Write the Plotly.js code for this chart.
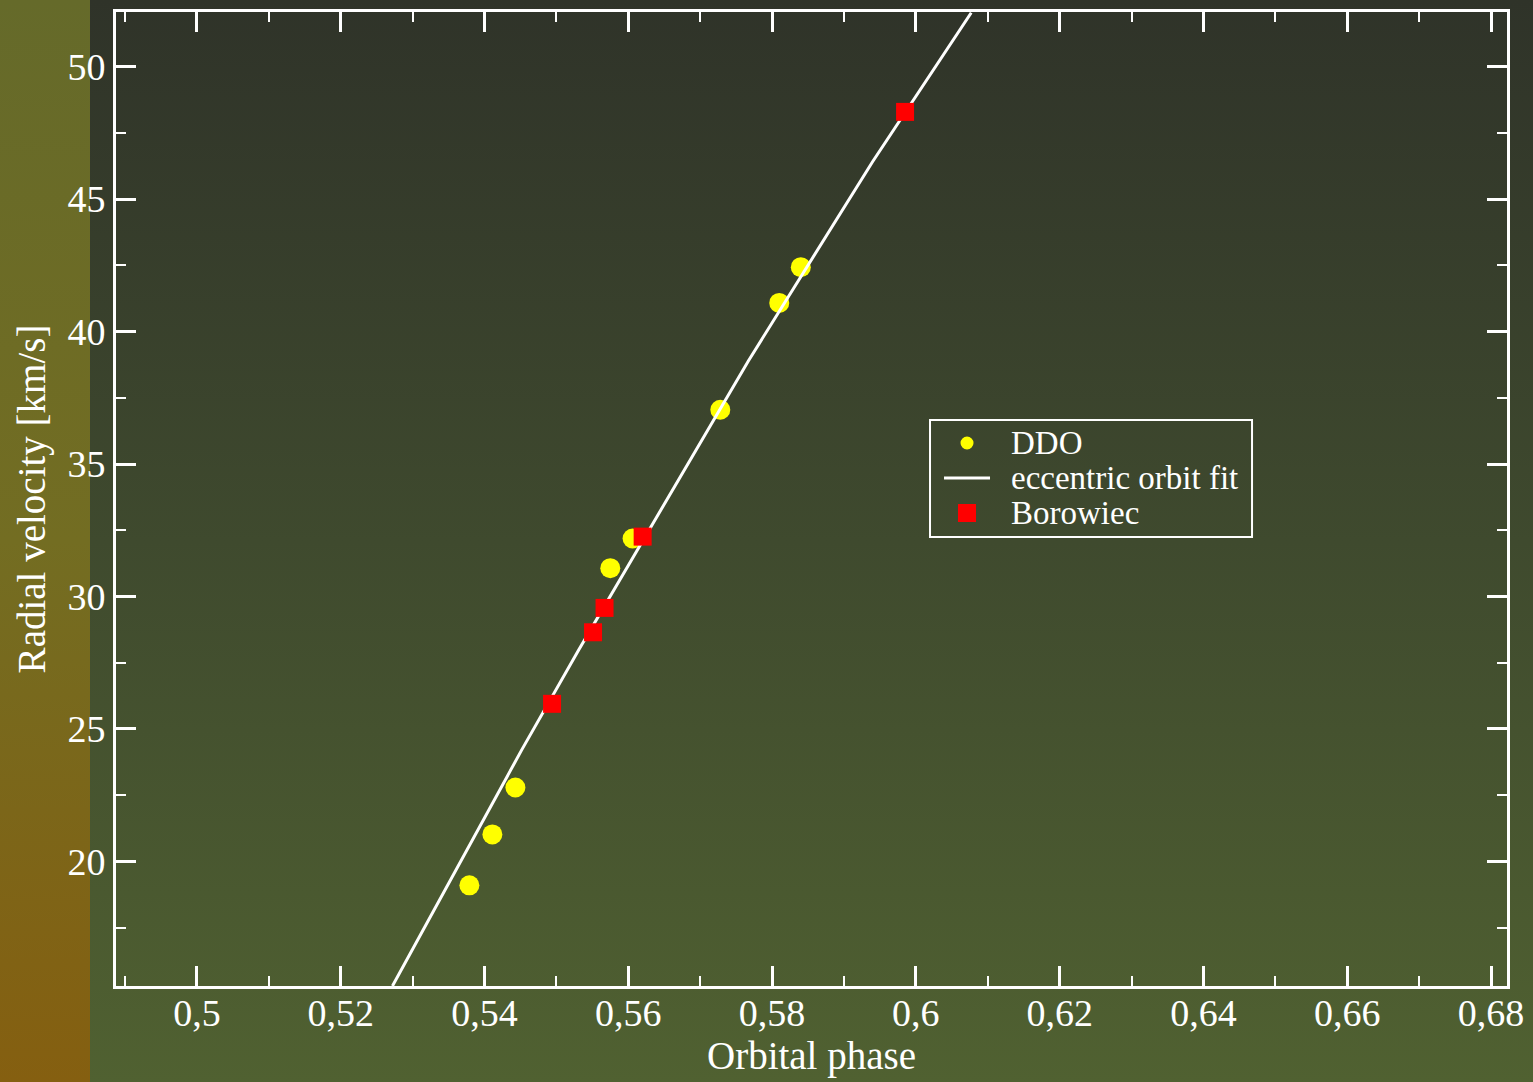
<!DOCTYPE html>
<html>
<head>
<meta charset="utf-8">
<script src="https://cdn.plot.ly/plotly-3.0.1.min.js"></script>
<style>
  html, body { margin: 0; padding: 0; width: 1533px; height: 1082px; overflow: hidden; }
  body { background: linear-gradient(to bottom, #2f3329 0%, #3f4a2e 50%, #506131 100%); position: relative; }
  #strip { position: absolute; left: 0; top: 0; width: 90px; height: 1082px;
           background: linear-gradient(to bottom, #656a2a 0%, #736d22 50%, #855f10 100%); }
  #chart { position: absolute; left: 0; top: 0; width: 1533px; height: 1082px; }
</style>
</head>
<body>
<div id="strip"></div>
<div id="chart"></div>
<script>
// DDO radial velocities (orbital phase, km/s)
const ddoPhase = [0.5379, 0.5411, 0.5443, 0.5575, 0.5606, 0.5728, 0.5810, 0.5840];
const ddoVel   = [19.10, 21.02, 22.79, 31.07, 32.19, 37.05, 41.08, 42.43];

// Borowiec radial velocities
const borPhase = [0.5494, 0.5551, 0.5567, 0.5620, 0.5985];
const borVel   = [25.95, 28.65, 29.57, 32.26, 48.29];

// Eccentric orbit fit curve
const fitPhase = [0.5272, 0.5452, 0.5531, 0.5653, 0.5767, 0.5940, 0.6013, 0.6077];
const fitVel   = [15.30, 24.22, 27.98, 33.62, 38.89, 46.42, 49.43, 52.03];

const xTickVals = [0.5, 0.52, 0.54, 0.56, 0.58, 0.6, 0.62, 0.64, 0.66, 0.68];
const yTickVals = [20, 25, 30, 35, 40, 45, 50];

const legendNames = ["DDO", "eccentric orbit fit", "Borowiec"];

const serif = "Liberation Serif, Times New Roman, serif";

const traces = [
  { x: ddoPhase, y: ddoVel, name: legendNames[0], type: "scatter", mode: "markers",
    marker: { color: "#ffff00", size: 20, symbol: "circle", line: { width: 0 } } },
  { x: fitPhase, y: fitVel, name: legendNames[1], type: "scatter", mode: "lines",
    line: { color: "#ffffff", width: 3, shape: "linear" } },
  { x: borPhase, y: borVel, name: legendNames[2], type: "scatter", mode: "markers",
    marker: { color: "#ff0000", size: 18, symbol: "square", line: { width: 0 } } }
];

// Legend box (drawn manually for tighter row spacing), paper coordinates
const lgX0 = 0.5852, lgX1 = 0.8167, lgY0 = 0.4610, lgY1 = 0.5811;
const lgRows = [0.5575, 0.5216, 0.4856];
const lgSymX = 0.6118, lgTextX = 0.6420;

const shapes = [
  { type: "rect", xref: "paper", yref: "paper", x0: lgX0, x1: lgX1, y0: lgY0, y1: lgY1,
    line: { color: "#ffffff", width: 2 }, fillcolor: "rgba(0,0,0,0)" },
  { type: "circle", xref: "paper", yref: "paper", xsizemode: "pixel", ysizemode: "pixel",
    xanchor: lgSymX, yanchor: lgRows[0], x0: -6.5, x1: 6.5, y0: -6.5, y1: 6.5,
    fillcolor: "#ffff00", line: { width: 0 } },
  { type: "line", xref: "paper", yref: "paper", xsizemode: "pixel", ysizemode: "pixel",
    xanchor: lgSymX, yanchor: lgRows[1], x0: -23, x1: 23, y0: 0, y1: 0,
    line: { color: "#ffffff", width: 3 } },
  { type: "rect", xref: "paper", yref: "paper", xsizemode: "pixel", ysizemode: "pixel",
    xanchor: lgSymX, yanchor: lgRows[2], x0: -9, x1: 9, y0: -9, y1: 9,
    fillcolor: "#ff0000", line: { width: 0 } }
];

const annotations = legendNames.map((n, i) => ({
  text: n, xref: "paper", yref: "paper", x: lgTextX, y: lgRows[i],
  xanchor: "left", yanchor: "middle", showarrow: false,
  font: { family: serif, size: 33, color: "#ffffff" }
}));

const axisCommon = {
  showgrid: false, zeroline: false,
  showline: true, linecolor: "#ffffff", linewidth: 3, mirror: "ticks",
  ticks: "inside", ticklen: 20, tickwidth: 3, tickcolor: "#ffffff",
  tickfont: { family: serif, size: 38, color: "#ffffff" }
};

const layout = {
  width: 1533, height: 1082,
  paper_bgcolor: "rgba(0,0,0,0)", plot_bgcolor: "rgba(0,0,0,0)",
  separators: ", ",
  margin: { l: 116, r: 26, t: 12, b: 96, pad: 0 },
  showlegend: false,
  shapes: shapes,
  annotations: annotations,
  xaxis: Object.assign({}, axisCommon, {
    range: [0.48875, 0.68222], tickvals: xTickVals, tickformat: ".2~f",
    ticklabelstandoff: -9,
    minor: { dtick: 0.01, ticks: "inside", ticklen: 10, tickwidth: 2, tickcolor: "#ffffff" },
    title: { text: "Orbital phase", standoff: 9, font: { family: serif, size: 39, color: "#ffffff" } }
  }),
  yaxis: Object.assign({}, axisCommon, {
    range: [15.30, 52.06], tickvals: yTickVals,
    minor: { dtick: 2.5, ticks: "inside", ticklen: 10, tickwidth: 2, tickcolor: "#ffffff" },
    title: { text: "Radial velocity [km/s]", standoff: 10, font: { family: serif, size: 39, color: "#ffffff" } }
  })
};

Plotly.newPlot("chart", traces, layout, { displayModeBar: false, staticPlot: true });
</script>
</body>
</html>
